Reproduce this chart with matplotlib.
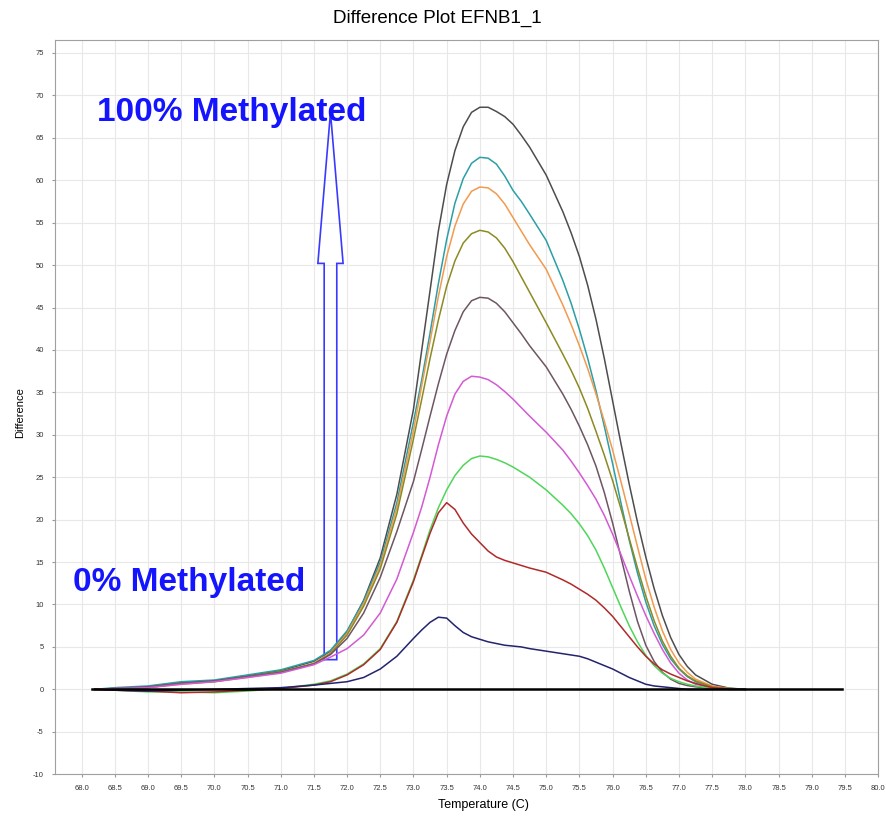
import numpy as np
import matplotlib.pyplot as plt
from matplotlib.patches import FancyArrow

plt.rcParams['font.family'] = ['Liberation Sans', 'DejaVu Sans']
plt.rcParams['axes.unicode_minus'] = False

# Temperaturas (C) compartidas por todas las curvas
temps = [68.2, 68.5, 69.0, 69.5, 70.0, 70.5, 71.0, 71.5, 71.75, 72.0, 72.25, 72.5, 72.75,
         73.0, 73.125, 73.25, 73.375, 73.5, 73.625, 73.75, 73.875, 74.0, 74.125, 74.25,
         74.375, 74.5, 74.625, 74.75, 75.0,
         75.25, 75.375, 75.5, 75.625, 75.75, 75.875, 76.0, 76.125, 76.25, 76.375,
         76.5, 76.625, 76.75, 76.875, 77.0, 77.125, 77.25, 77.5, 77.75, 78.0]

# Curvas de diferencia
diff_black = [0.0, 0.1, 0.3, 0.8, 1.0, 1.6, 2.2, 3.3, 4.5, 6.8, 10.5, 15.5, 23.0,
              33.0, 40.0, 47.0, 54.0, 59.5, 63.5, 66.3, 68.0, 68.6, 68.6, 68.1,
              67.5, 66.6, 65.3, 63.9, 60.6,
              56.3, 53.8, 51.0, 47.6, 43.6, 39.0, 34.0, 29.0, 24.2, 19.7,
              15.6, 11.9, 8.7, 6.1, 4.1, 2.7, 1.7, 0.6, 0.15, 0.0]
diff_teal = [0.0, 0.2, 0.4, 0.9, 1.1, 1.7, 2.3, 3.4, 4.6, 6.9, 10.4, 15.0, 22.0,
             31.5, 36.5, 42.0, 47.8, 53.0, 57.3, 60.2, 62.0, 62.7, 62.6, 61.9,
             60.5, 58.8, 57.5, 56.0, 52.9,
             48.2, 45.5, 42.4, 39.0, 35.2, 31.0, 26.6, 22.0, 17.6, 13.7,
             10.3, 7.5, 5.3, 3.6, 2.4, 1.5, 0.9, 0.3, 0.1, 0.0]
diff_orange = [0.0, 0.0, 0.2, 0.6, 0.9, 1.4, 2.0, 3.1, 4.3, 6.6, 10.1, 14.6, 21.4,
               30.5, 35.8, 41.0, 46.3, 51.0, 54.6, 57.2, 58.7, 59.2, 59.1, 58.4,
               57.2, 55.6, 54.0, 52.4, 49.5,
               45.3, 43.0, 40.5, 37.8, 34.8, 31.6, 28.2, 24.5, 20.7, 16.8,
               13.0, 9.7, 6.9, 4.7, 3.1, 2.0, 1.2, 0.4, 0.1, 0.0]
diff_olive = [0.0, 0.1, 0.2, 0.7, 0.9, 1.5, 2.1, 3.0, 4.2, 6.4, 9.8, 14.2, 20.7,
              29.5, 34.2, 39.0, 43.5, 47.5, 50.5, 52.6, 53.7, 54.1, 53.9, 53.2,
              52.0, 50.4, 48.6, 46.8, 43.2,
              39.5, 37.6, 35.5, 33.1, 30.4, 27.6, 24.6, 21.3, 17.8, 14.3,
              11.0, 8.1, 5.7, 3.9, 2.5, 1.6, 1.0, 0.3, 0.1, 0.0]
diff_brown = [0.0, 0.1, 0.3, 0.7, 1.0, 1.5, 2.0, 3.0, 4.1, 6.0, 9.0, 13.2, 18.6,
              24.5, 28.3, 32.2, 36.0, 39.5, 42.3, 44.5, 45.8, 46.2, 46.1, 45.5,
              44.5, 43.2, 41.9, 40.5, 38.0,
              34.8, 33.0, 31.0, 28.8, 26.3, 23.2, 19.6, 15.6, 11.6, 8.0,
              5.2, 3.3, 2.0, 1.2, 0.7, 0.45, 0.3, 0.1, 0.0, 0.0]
diff_magenta = [0.0, 0.1, 0.2, 0.6, 0.9, 1.4, 1.9, 2.9, 3.8, 4.8, 6.4, 9.0, 13.0,
                18.5, 21.5, 25.0, 28.8, 32.2, 34.8, 36.3, 36.9, 36.8, 36.5, 35.9,
                35.1, 34.2, 33.2, 32.2, 30.3,
                28.2, 26.9, 25.5, 24.0, 22.4, 20.5, 18.3, 15.9, 13.4, 11.0,
                8.7, 6.6, 4.7, 3.1, 1.9, 1.1, 0.6, 0.2, 0.05, 0.0]
diff_green = [0.0, -0.1, -0.3, -0.3, -0.4, -0.2, 0.1, 0.6, 1.0, 1.8, 3.0, 4.8, 8.0,
              12.9, 15.8, 18.8, 21.4, 23.5, 25.2, 26.4, 27.2, 27.5, 27.4, 27.1,
              26.7, 26.2, 25.6, 25.0, 23.5,
              21.7, 20.7, 19.5, 18.1, 16.4, 14.3, 12.0, 9.7, 7.5, 5.6,
              4.0, 2.8, 1.9, 1.3, 0.9, 0.6, 0.4, 0.1, 0.0, 0.0]
diff_red = [0.0, -0.1, -0.2, -0.4, -0.3, -0.1, 0.1, 0.5, 0.9, 1.7, 2.9, 4.7, 7.9,
            12.7, 15.6, 18.4, 20.8, 22.0, 21.2, 19.6, 18.3, 17.3, 16.3, 15.6,
            15.2, 14.9, 14.6, 14.3, 13.8,
            12.9, 12.4, 11.8, 11.2, 10.5, 9.6, 8.6, 7.4, 6.2, 5.0,
            3.9, 3.0, 2.3, 1.8, 1.4, 1.0, 0.7, 0.2, 0.05, 0.0]
diff_navy = [0.0, -0.1, -0.2, -0.1, 0.0, 0.1, 0.2, 0.5, 0.7, 0.9, 1.4, 2.4, 3.9,
             6.0, 7.0, 7.9, 8.5, 8.4, 7.5, 6.7, 6.2, 5.9, 5.6, 5.4,
             5.2, 5.1, 5.0, 4.8, 4.5,
             4.2, 4.05, 3.9, 3.6, 3.2, 2.8, 2.4, 1.9, 1.4, 1.0,
             0.6, 0.4, 0.3, 0.2, 0.1, 0.0, 0.0, 0.0, 0.0, 0.0]

curves = [diff_black, diff_teal, diff_orange, diff_olive, diff_brown,
          diff_magenta, diff_green, diff_red, diff_navy]
colors = ['#4d4d4d', '#2a9fa6', '#f29a4e', '#8c8a22', '#6e5564',
          '#d35ad3', '#4fd65a', '#b02a2a', '#23236e']

# Linea base (0% metilado)
base_temps = [68.16, 79.45]
base_vals = [0, 0]

x_ticks = np.arange(68.0, 80.01, 0.5)
y_ticks = np.arange(-10, 76, 5)

fig = plt.figure(figsize=(8.87, 8.21), dpi=100)
ax = fig.add_axes([0.062, 0.057, 0.928, 0.894])

for vals, c in zip(curves, colors):
    ax.plot(temps, vals, color=c, lw=1.1)
ax.plot(base_temps, base_vals, color='black', lw=1.8)

ax.set_xlim(67.6, 80.0)
ax.set_ylim(-10, 76.5)
ax.set_xticks(x_ticks)
ax.set_xticklabels([f'{t:.1f}' for t in x_ticks])
ax.set_yticks(y_ticks)
ax.tick_params(labelsize=5.5, labelcolor='#333333', length=2, color='#999999', pad=6)
ax.grid(True, color='#e8e8e8', lw=0.8)
ax.set_axisbelow(True)
for s in ax.spines.values():
    s.set_color('#a0a0a0')

# Flecha y textos
arrow = FancyArrow(71.75, 3.5, 0, 64.5, width=0.19, head_width=0.38, head_length=17.8,
                   length_includes_head=True, fc='none', ec='#3a3aff', lw=1.2)
ax.add_patch(arrow)
ax.text(68.23, 68.0, '100% Methylated', color='#1414ff', fontsize=24,
        fontweight='bold', va='center', ha='left')
ax.text(67.87, 12.6, '0% Methylated', color='#1414ff', fontsize=24,
        fontweight='bold', va='center', ha='left')

fig.text(0.493, 0.978, 'Difference Plot EFNB1_1', ha='center', va='center', fontsize=13.5)
fig.text(0.0225, 0.498, 'Difference', rotation=90, ha='center', va='center', fontsize=8)
fig.text(0.545, 0.0195, 'Temperature (C)', ha='center', va='center', fontsize=9)

fig.savefig('out.png', dpi=100)
